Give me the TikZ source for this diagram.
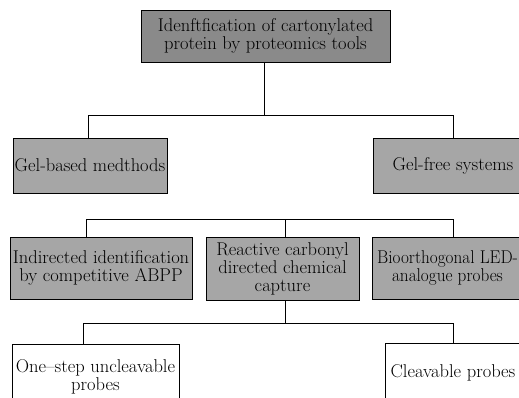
\documentclass[tikz,border=0pt]{standalone}
\usepackage{fontspec}
\newfontfamily\narrowrm{lmroman17-regular}[Extension=.otf, FakeStretch=0.93]
\begin{document}
\begin{tikzpicture}
  [x=1pt, y=-1pt,
   every node/.style={draw, line width=1pt, align=center, inner sep=1pt,
                      font=\fontsize{18.5}{18}\selectfont},
   darkbox/.style={fill=black!46},
   midbox/.style={fill=black!35},
   plainbox/.style={fill=white},
   link/.style={line width=0.8pt}]
  \clip (0,0) rectangle (519,397);
  % boxes
  \node[darkbox, minimum width=249pt, minimum height=52pt] (root) at (265.5,36)
     {Idenftfication of cartonylated\\protein by proteomics tools};
  \node[midbox, minimum width=154pt, minimum height=55pt] (gelbased) at (90,165.5)
     {Gel-based medthods};
  \node[midbox, minimum width=160pt, minimum height=55pt] (gelfree) at (453,165.5)
     {Gel-free systems};
  \node[midbox, minimum width=182pt, minimum height=62pt] (indirect) at (101,268)
     {Indirected identification\\by competitive ABPP};
  \node[midbox, minimum width=153pt, minimum height=63pt] (reactive) at (282.5,268.5)
     {Reactive carbonyl\\directed chemical\\capture};
  \node[midbox, minimum width=150pt, minimum height=62pt,
        font=\narrowrm\fontsize{18.5}{18}\selectfont] (bioortho) at (447.5,268)
     {Bioorthogonal LED-\\analogue probes};
  \node[plainbox, minimum width=167pt, minimum height=66pt] (onestep) at (95.5,377)
     {One--step uncleavable\\probes};
  \node[plainbox, minimum width=136pt, minimum height=60pt] (cleavable) at (453,373)
     {Cleavable probes};
  % forks
  \coordinate (forka) at (264,115);
  \coordinate (forkal) at (88,115);
  \coordinate (forkar) at (453,115);
  \coordinate (forkbl) at (86,219);
  \coordinate (forkbm) at (285,219);
  \coordinate (forkbr) at (453,219);
  \coordinate (forkc) at (285,323);
  \coordinate (forkcl) at (83,323);
  \coordinate (forkcr) at (453,323);
  % connectors
  \draw[link] (root.south -| forka) -- (forka);
  \draw[link] (forkal) -- (forkar);
  \draw[link] (forkal) -- (forkal |- gelbased.north);
  \draw[link] (forkar) -- (forkar |- gelfree.north);
  \draw[link] (forkbl) -- (forkbr);
  \draw[link] (forkbl) -- (forkbl |- indirect.north);
  \draw[link] (forkbm) -- (forkbm |- reactive.north);
  \draw[link] (forkbr) -- (forkbr |- bioortho.north);
  \draw[link] (reactive.south -| forkc) -- (forkc);
  \draw[link] (forkcl) -- (forkcr);
  \draw[link] (forkcl) -- (forkcl |- onestep.north);
  \draw[link] (forkcr) -- (forkcr |- cleavable.north);
\end{tikzpicture}
\end{document}
